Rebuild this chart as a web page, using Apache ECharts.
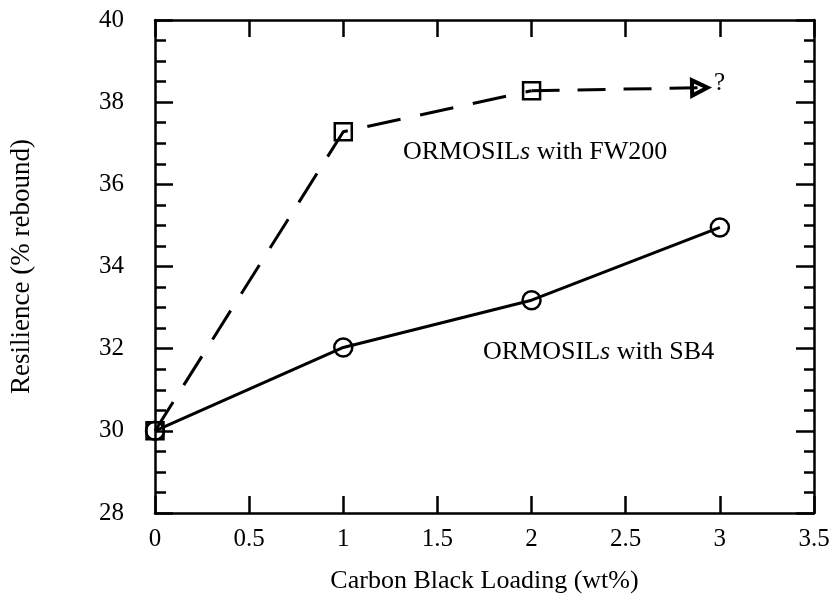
<!DOCTYPE html>
<html>
<head>
<meta charset="utf-8">
<script src="https://cdn.jsdelivr.net/npm/echarts@6/dist/echarts.min.js"></script>
<style>
  html, body { margin: 0; padding: 0; background: #fff; }
  #chart { width: 835px; height: 608px; }
</style>
</head>
<body>
<div id="chart"></div>
<script>
// Carbon black loading (wt%) and resilience (% rebound)
const loading = [0, 1, 2, 3];
const resilienceSB4 = [30, 32.03, 33.18, 34.95];
const loadingFW200 = [0, 1, 2];
const resilienceFW200 = [30, 37.28, 38.28];
// extrapolated trend for FW200, drawn as a dashed arrow ending in "?"
const trendX = [2, 2.9];
const trendY = [38.28, 38.35];

const xTicks = { min: 0, max: 3.5, interval: 0.5 };
const yTicks = { min: 28, max: 40, interval: 2 };

const FONT = '"Liberation Serif", "Times New Roman", serif';
const INK = '#000';

const sb4Data = loading.map((x, i) => [x, resilienceSB4[i]]);
const fwData = loadingFW200.map((x, i) => [x, resilienceFW200[i]]);

// open triangle arrowhead (outer triangle with a reversed inner hole)
const openArrow = 'path://M0,0 L9,22 L-9,22 Z M0,9 L-3.5,18 L3.5,18 Z';

const axisLine = { show: true, onZero: false, lineStyle: { color: INK, width: 2.5 } };
const tickStyle = { color: INK, width: 2.5 };

const chart = echarts.init(document.getElementById('chart'), null, { renderer: 'canvas' });
chart.setOption({
  backgroundColor: '#fff',
  animation: false,
  grid: { left: 155, right: 21, top: 20, bottom: 95 },
  xAxis: [
    {
      type: 'value', position: 'bottom', ...xTicks,
      name: 'Carbon Black Loading (wt%)', nameLocation: 'middle', nameGap: 55,
      nameTextStyle: { fontFamily: FONT, fontSize: 26, color: INK },
      axisLine,
      axisTick: { show: true, inside: true, length: 17, lineStyle: tickStyle },
      axisLabel: { fontFamily: FONT, fontSize: 25, color: INK, margin: 14 },
      splitLine: { show: false }
    },
    {
      type: 'value', position: 'top', ...xTicks,
      axisLine,
      axisTick: { show: true, inside: true, length: 17, lineStyle: tickStyle },
      axisLabel: { show: false },
      splitLine: { show: false }
    }
  ],
  yAxis: [
    {
      type: 'value', position: 'left', ...yTicks,
      name: 'Resilience (% rebound)', nameLocation: 'middle', nameGap: 120, nameRotate: 90,
      nameTextStyle: { fontFamily: FONT, fontSize: 27, color: INK },
      axisLine,
      axisTick: { show: true, inside: true, length: 18, lineStyle: tickStyle },
      minorTick: { show: true, splitNumber: 4, length: 11, lineStyle: tickStyle },
      axisLabel: { fontFamily: FONT, fontSize: 25, color: INK, margin: 31 },
      splitLine: { show: false }
    },
    {
      type: 'value', position: 'right', ...yTicks,
      axisLine,
      axisTick: { show: true, inside: true, length: 18, lineStyle: tickStyle },
      minorTick: { show: true, splitNumber: 4, length: 10, lineStyle: tickStyle },
      axisLabel: { show: false },
      splitLine: { show: false }
    }
  ],
  series: [
    {
      name: 'ORMOSILs with SB4',
      type: 'line',
      data: sb4Data,
      symbol: 'circle',
      symbolSize: 18,
      lineStyle: { color: INK, width: 3 },
      itemStyle: { color: 'transparent', borderColor: INK, borderWidth: 2.5 },
      z: 3
    },
    {
      name: 'ORMOSILs with FW200',
      type: 'line',
      data: fwData,
      symbol: 'rect',
      symbolSize: 17,
      lineStyle: { color: INK, width: 3, type: [34, 20] },
      itemStyle: { color: 'transparent', borderColor: INK, borderWidth: 2.5 },
      z: 4,
      markLine: {
        silent: true,
        symbol: ['none', openArrow],
        symbolSize: 22,
        itemStyle: { color: INK },
        lineStyle: { color: INK, width: 3, type: [28, 18] },
        label: {
          show: true, position: 'end', formatter: '?', distance: 13,
          fontFamily: FONT, fontSize: 25, color: INK, offset: [0, -4]
        },
        data: [[
          { coord: [trendX[0], trendY[0]] },
          { coord: [trendX[1], trendY[1]] }
        ]]
      }
    }
  ],
  graphic: [
    {
      type: 'text', left: 403, top: 139,
      style: {
        text: '{r|ORMOSIL}{i|s}{r| with FW200}',
        rich: {
          r: { fontFamily: FONT, fontSize: 26, fill: INK },
          i: { fontFamily: FONT, fontSize: 26, fontStyle: 'italic', fill: INK }
        }
      }
    },
    {
      type: 'text', left: 483, top: 339,
      style: {
        text: '{r|ORMOSIL}{i|s}{r| with SB4}',
        rich: {
          r: { fontFamily: FONT, fontSize: 26, fill: INK },
          i: { fontFamily: FONT, fontSize: 26, fontStyle: 'italic', fill: INK }
        }
      }
    }
  ]
});
</script>
</body>
</html>
